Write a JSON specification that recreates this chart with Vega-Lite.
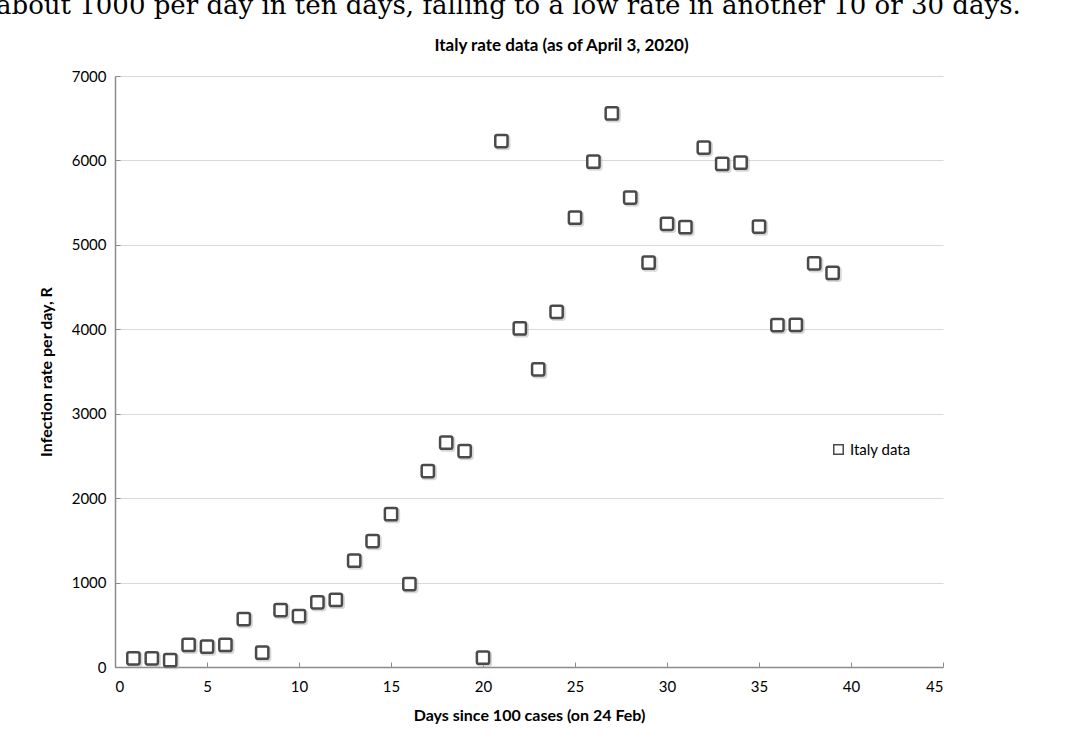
{
  "$schema": "https://vega.github.io/schema/vega-lite/v6.json",
  "width": 828,
  "height": 591,
  "autosize": {"type": "none"},
  "padding": {"left": 115, "top": 76, "right": 141, "bottom": 77},
  "background": "white",
  "title": {
    "text": "about 1000 per day in ten days, falling to a low rate in another 10 or 30 days.",
    "anchor": "start",
    "frame": "group",
    "font": "DejaVu Serif",
    "fontSize": 26,
    "fontWeight": "normal",
    "color": "#000000",
    "dx": -119,
    "offset": -4,
    "baseline": "alphabetic"
  },
  "data": {
    "values": [
      {"day": 1, "rate": 103}, {"day": 2, "rate": 103}, {"day": 3, "rate": 80},
      {"day": 4, "rate": 261}, {"day": 5, "rate": 240}, {"day": 6, "rate": 261},
      {"day": 7, "rate": 568}, {"day": 8, "rate": 170}, {"day": 9, "rate": 675},
      {"day": 10, "rate": 604}, {"day": 11, "rate": 766}, {"day": 12, "rate": 794},
      {"day": 13, "rate": 1259}, {"day": 14, "rate": 1492}, {"day": 15, "rate": 1810},
      {"day": 16, "rate": 983}, {"day": 17, "rate": 2321}, {"day": 18, "rate": 2657},
      {"day": 19, "rate": 2558}, {"day": 20, "rate": 110}, {"day": 21, "rate": 6230},
      {"day": 22, "rate": 4011}, {"day": 23, "rate": 3526}, {"day": 24, "rate": 4207},
      {"day": 25, "rate": 5322}, {"day": 26, "rate": 5986}, {"day": 27, "rate": 6557},
      {"day": 28, "rate": 5560}, {"day": 29, "rate": 4789}, {"day": 30, "rate": 5249},
      {"day": 31, "rate": 5210}, {"day": 32, "rate": 6153}, {"day": 33, "rate": 5959},
      {"day": 34, "rate": 5974}, {"day": 35, "rate": 5217}, {"day": 36, "rate": 4050},
      {"day": 37, "rate": 4053}, {"day": 38, "rate": 4782}, {"day": 39, "rate": 4668}
    ]
  },
  "layer": [
    {
      "mark": {
        "type": "point",
        "shape": "M -0.7 -1 L 0.7 -1 Q 1 -1 1 -0.7 L 1 0.7 Q 1 1 0.7 1 L -0.7 1 Q -1 1 -1 0.7 L -1 -0.7 Q -1 -1 -0.7 -1 Z",
        "size": 150,
        "filled": false,
        "stroke": "#b0b0b0",
        "strokeWidth": 3,
        "strokeOpacity": 0.7,
        "xOffset": 1.5,
        "yOffset": 1.5
      },
      "encoding": {
        "x": {
          "field": "day",
          "type": "quantitative",
          "scale": {"domain": [0, 45], "nice": false},
          "axis": {
            "orient": "top",
            "title": "Italy rate data (as of April 3, 2020)",
            "labels": false,
            "ticks": false,
            "domain": false,
            "grid": false,
            "titleFont": "Lato",
            "titleFontSize": 17,
            "titleFontWeight": "bold",
            "titleColor": "#000000",
            "titleX": 446,
            "titlePadding": 22
          }
        },
        "y": {
          "field": "rate",
          "type": "quantitative",
          "title": "Infection rate per day, R",
          "scale": {"domain": [0, 7000], "nice": false}
        }
      }
    },
    {
      "mark": {
        "type": "point",
        "shape": "M -0.7 -1 L 0.7 -1 Q 1 -1 1 -0.7 L 1 0.7 Q 1 1 0.7 1 L -0.7 1 Q -1 1 -1 0.7 L -1 -0.7 Q -1 -1 -0.7 -1 Z",
        "size": 150,
        "filled": false,
        "fill": "#ffffff",
        "fillOpacity": 1,
        "strokeWidth": 2.5,
        "opacity": 1
      },
      "encoding": {
        "x": {
          "field": "day",
          "type": "quantitative",
          "scale": {"domain": [0, 45], "nice": false},
          "axis": {
            "orient": "bottom",
            "title": "Days since 100 cases (on 24 Feb)",
            "values": [0, 5, 10, 15, 20, 25, 30, 35, 40, 45],
            "grid": false,
            "tickSize": -5,
            "labelPadding": 17,
            "titlePadding": 13
          }
        },
        "y": {
          "field": "rate",
          "type": "quantitative",
          "title": "Infection rate per day, R",
          "scale": {"domain": [0, 7000], "nice": false},
          "axis": {
            "values": [0, 1000, 2000, 3000, 4000, 5000, 6000, 7000],
            "format": "d",
            "grid": true,
            "tickSize": -5,
            "labelPadding": 14,
            "titlePadding": 17
          }
        },
        "color": {
          "datum": "Italy data",
          "type": "nominal",
          "scale": {"range": ["#4a4a4a"]},
          "legend": {
            "orient": "none",
            "legendX": 716,
            "legendY": 366,
            "title": null,
            "symbolType": "square",
            "symbolSize": 90,
            "symbolStrokeWidth": 1.5,
            "symbolStrokeColor": "#000000",
            "symbolFillColor": "#ffffff",
            "labelFont": "Lato",
            "labelFontSize": 15,
            "labelColor": "#000000"
          }
        }
      }
    }
  ],
  "resolve": {"axis": {"x": "independent"}},
  "config": {
    "view": {"stroke": null},
    "axis": {
      "domainColor": "#8c8c8c",
      "domainWidth": 1.5,
      "tickColor": "#8c8c8c",
      "gridColor": "#d9d9d9",
      "gridWidth": 1,
      "labelFont": "Lato",
      "labelFontSize": 15,
      "labelColor": "#000000",
      "titleFont": "Lato",
      "titleFontSize": 16,
      "titleFontWeight": "bold",
      "titleColor": "#000000"
    }
  }
}
